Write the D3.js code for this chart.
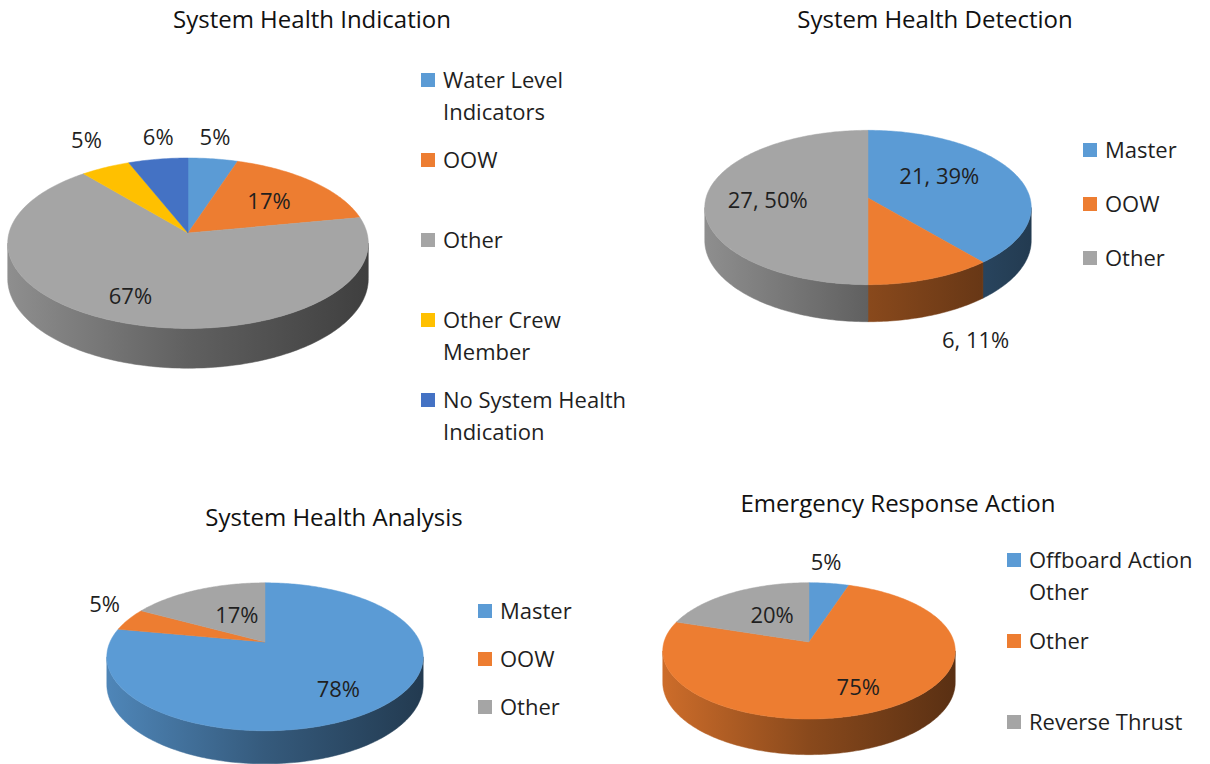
<!DOCTYPE html>
<html>
<head>
<meta charset="utf-8">
<script src="https://cdn.jsdelivr.net/npm/d3@7"></script>
<style>
  body { margin: 0; background: #fff; }
  text { font-family: "Open Sans", "Noto Sans", sans-serif; fill: #1f1f1f; }
</style>
</head>
<body>
<svg id="chart"></svg>
<script>
// data
const indicationCategories = ["Water Level Indicators", "OOW", "Other", "Other Crew Member", "No System Health Indication"];
const indicationValues = [5, 17, 67, 5, 6];

const detectionCategories = ["Master", "OOW", "Other"];
const detectionValues = [21, 6, 27];

const analysisCategories = ["Master", "OOW", "Other"];
const analysisValues = [78, 5, 17];

const responseCategories = ["Offboard Action Other", "Other", "Reverse Thrust"];
const responseValues = [5, 75, 20];

const officeColors = ["#5B9BD5", "#ED7D31", "#A5A5A5", "#FFC000", "#4472C4"];

const width = 1210;
const height = 764;

const svg = d3.select("#chart")
  .attr("width", width)
  .attr("height", height)
  .attr("viewBox", [0, 0, width, height]);

svg.append("rect").attr("width", width).attr("height", height).attr("fill", "#fff");
const defs = svg.append("defs");

const pct = d3.format(".0%");

// layout of the four panels (pie in pseudo 3D with a little perspective)
const charts = [
  {
    id: "c1", title: "System Health Indication", titleX: 312, titleY: 28,
    categories: indicationCategories, values: indicationValues,
    cx: 188, cy: 233, rx: 179, ry: 84, k: 0.12, depth: 35,
    legendX: 421, legendY: 80, legendStep: 80, wrap: 200,
    labelMode: ["out", "in", "in", "out", "out"],
    nudge: [[-2, 1], [-2, 3], [-15, 8], [-6, -7], [5, 1]],
    labelText: (d, total) => pct(d.value / total)
  },
  {
    id: "c2", title: "System Health Detection", titleX: 935, titleY: 28,
    categories: detectionCategories, values: detectionValues,
    cx: 868, cy: 198, rx: 162, ry: 76, k: 0.123, depth: 32.5,
    legendX: 1083, legendY: 150, legendStep: 54, wrap: 200,
    labelMode: ["in", "out", "in"],
    nudge: [[-25, -5], [30, 3], [5, 2]],
    labelText: (d, total) => d.value + ", " + pct(d.value / total)
  },
  {
    id: "c3", title: "System Health Analysis", titleX: 334, titleY: 526,
    categories: analysisCategories, values: analysisValues,
    cx: 265, cy: 642, rx: 155, ry: 71, k: 0.2, depth: 26.5,
    legendX: 478, legendY: 611, legendStep: 48, wrap: 200,
    labelMode: ["in", "out", "in"],
    nudge: [[2, 8], [0, -7], [18, 9]],
    labelText: (d, total) => pct(d.value / total)
  },
  {
    id: "c4", title: "Emergency Response Action", titleX: 898, titleY: 512,
    categories: responseCategories, values: responseValues,
    cx: 809, cy: 642, rx: 145, ry: 67, k: 0.13, depth: 31,
    legendX: 1007, legendY: 560, legendStep: 81, wrap: 182,
    labelMode: ["out", "in", "in"],
    nudge: [[-7, 2], [3, 3], [15, 6]],
    labelText: (d, total) => pct(d.value / total)
  }
];

// angle a is clockwise from 12 o'clock (same as d3.pie), f = radius fraction, h = 0 top / 1 bottom
function proj(c, a, f, h) {
  const u = f * Math.sin(a), v = f * Math.cos(a);
  const s = 1 / (1 + c.k * v);
  return [c.cx + c.rx * u * s, c.cy - c.ry * v * s + c.depth * h * s];
}

function arcPoints(c, a0, a1, h) {
  const n = Math.max(2, Math.ceil(Math.abs(a1 - a0) / (Math.PI / 180)));
  return d3.range(n + 1).map(i => proj(c, a0 + (a1 - a0) * i / n, 1, h));
}

const line = d3.line();

charts.forEach(c => {
  const g = svg.append("g").attr("id", c.id);
  const color = d3.scaleOrdinal().domain(c.categories).range(officeColors);
  const total = d3.sum(c.values);
  const slices = d3.pie().sort(null)(c.values)
    .map((s, i) => Object.assign(s, { name: c.categories[i] }));

  // side gradients, lighter on the left, dark on the right
  c.categories.forEach((name, i) => {
    const base = d3.rgb(color(name));
    const shade = f => d3.rgb(base.r * f, base.g * f, base.b * f).formatHex();
    const grad = defs.append("linearGradient")
      .attr("id", c.id + "-side-" + i)
      .attr("gradientUnits", "userSpaceOnUse")
      .attr("x1", c.cx - c.rx).attr("x2", c.cx + c.rx)
      .attr("y1", 0).attr("y2", 0);
    grad.append("stop").attr("offset", 0).attr("stop-color", shade(0.86));
    grad.append("stop").attr("offset", 0.5).attr("stop-color", shade(0.58));
    grad.append("stop").attr("offset", 1).attr("stop-color", shade(0.38));
  });

  // visible part of the rim
  const t0 = Math.acos(-c.k), t1 = 2 * Math.PI - t0;
  g.append("g").selectAll("path")
    .data(slices.filter(s => Math.min(s.endAngle, t1) > Math.max(s.startAngle, t0)))
    .join("path")
    .attr("fill", s => `url(#${c.id}-side-${s.index})`)
    .attr("stroke", s => `url(#${c.id}-side-${s.index})`)
    .attr("stroke-width", 0.5)
    .attr("d", s => {
      const lo = Math.max(s.startAngle, t0), hi = Math.min(s.endAngle, t1);
      const pts = arcPoints(c, lo, hi, 0).concat(arcPoints(c, hi, lo, 1));
      return line(pts) + "Z";
    });

  // top faces
  g.append("g").selectAll("path")
    .data(slices)
    .join("path")
    .attr("fill", s => color(s.name))
    .attr("stroke", s => color(s.name))
    .attr("stroke-width", 0.5)
    .attr("d", s => line([[c.cx, c.cy]].concat(arcPoints(c, s.startAngle, s.endAngle, 0))) + "Z");

  // data labels
  const labels = g.append("g").selectAll("text")
    .data(slices)
    .join("text")
    .attr("text-anchor", "middle")
    .attr("dy", "0.35em")
    .style("font-size", "22px")
    .text(s => c.labelText(s, total));

  labels.each(function (s, i) {
    const mid = (s.startAngle + s.endAngle) / 2;
    const box = this.getBBox();
    let x, y;
    if (c.labelMode[i] === "in") {
      [x, y] = proj(c, mid, 0.65, 0);
    } else {
      const h = Math.cos(mid) < 0 ? 1 : 0;
      const [qx, qy] = proj(c, mid, 1, h);
      x = qx + Math.sin(mid) * (box.width / 2 + 10);
      y = qy - Math.cos(mid) * (box.height / 2 + 8);
    }
    d3.select(this).attr("x", x + c.nudge[i][0]).attr("y", y + c.nudge[i][1]);
  });

  // title
  g.append("text")
    .attr("x", c.titleX).attr("y", c.titleY)
    .attr("text-anchor", "middle")
    .style("font-size", "24px")
    .style("fill", "#111")
    .text(c.title);

  // legend
  const legend = g.append("g").selectAll("g")
    .data(c.categories)
    .join("g")
    .attr("transform", (d, i) => `translate(${c.legendX},${c.legendY + i * c.legendStep})`);

  legend.append("rect")
    .attr("x", 0).attr("y", -7)
    .attr("width", 14).attr("height", 14)
    .attr("fill", d => color(d));

  legend.append("text")
    .attr("x", 22)
    .style("font-size", "22px")
    .each(function (d) {
      const t = d3.select(this);
      const words = d.split(" ");
      let lineNo = 0;
      let span = t.append("tspan").attr("x", 22).attr("y", 0).attr("dy", "0.35em");
      let current = [];
      words.forEach(w => {
        current.push(w);
        span.text(current.join(" "));
        if (span.node().getComputedTextLength() > c.wrap && current.length > 1) {
          current.pop();
          span.text(current.join(" "));
          current = [w];
          lineNo++;
          span = t.append("tspan").attr("x", 22).attr("y", lineNo * 32.5).attr("dy", "0.35em").text(w);
        }
      });
    });
});
</script>
</body>
</html>
